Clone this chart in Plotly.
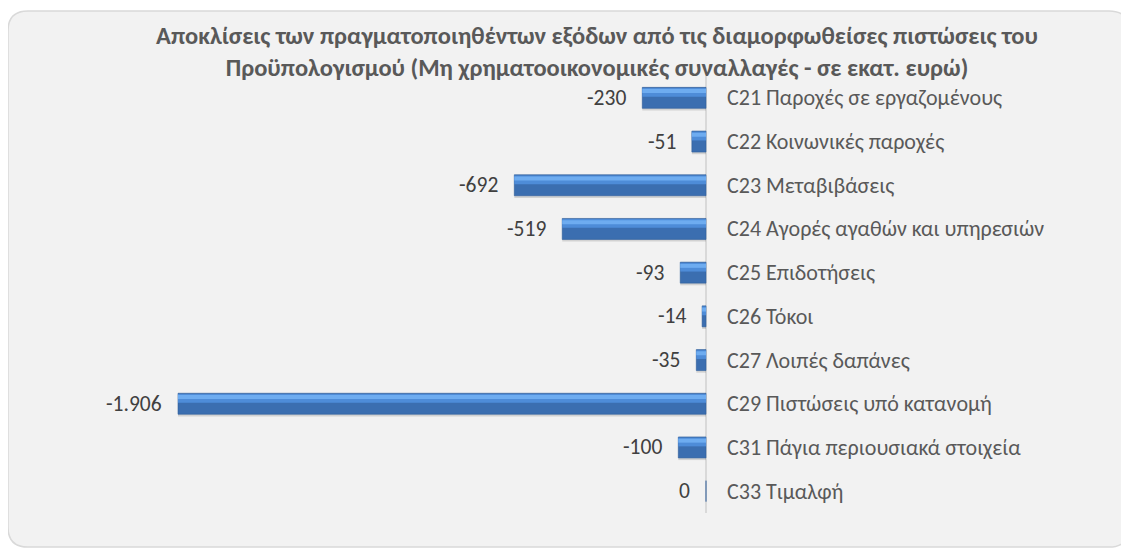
import plotly.graph_objects as go

categories = [
    "C21 Παροχές σε εργαζομένους",
    "C22 Κοινωνικές παροχές",
    "C23 Μεταβιβάσεις",
    "C24 Αγορές αγαθών και υπηρεσιών",
    "C25 Επιδοτήσεις",
    "C26 Τόκοι",
    "C27 Λοιπές δαπάνες",
    "C29 Πιστώσεις υπό κατανομή",
    "C31 Πάγια περιουσιακά στοιχεία",
    "C33 Τιμαλφή",
]
values = [-230, -51, -692, -519, -93, -14, -35, -1906, -100, 0]
value_labels = ["-230", "-51", "-692", "-519", "-93", "-14", "-35", "-1.906", "-100", "0"]

title_text = ("<b>Αποκλίσεις των πραγματοποιηθέντων εξόδων από τις διαμορφωθείσες πιστώσεις του<br>"
              "Προϋπολογισμού (Μη χρηματοοικονομικές συναλλαγές - σε εκατ. ευρώ)</b>")

W, H = 1129, 548
ML, MR, MT, MB = 100, 20, 68, 43
FONT = "Carlito, Lato, 'Noto Sans', sans-serif"

k = 528 / 1906.0  # px per unit
x0_px = 698
xmin = -(x0_px - ML) / k
xmax = (W - MR - x0_px) / k

fig = go.Figure()
# soft shadow
fig.add_trace(go.Bar(
    y=categories, x=values, orientation="h", width=0.48, offset=-0.19,
    marker=dict(color="rgba(0,0,0,0.13)", line=dict(width=0)),
    hoverinfo="skip", showlegend=False,
))
# base bar
fig.add_trace(go.Bar(
    y=categories, x=values, orientation="h", width=0.48, offset=-0.24,
    marker=dict(color="#3b6eb0", line=dict(color="#30609c", width=0.6)),
    hoverinfo="skip", showlegend=False,
))
# upper band
fig.add_trace(go.Bar(
    y=categories, x=values, orientation="h", width=0.20, offset=-0.225,
    marker=dict(color="#4e8cd8", line=dict(width=0)),
    hoverinfo="skip", showlegend=False,
))
# highlight
fig.add_trace(go.Bar(
    y=categories, x=values, orientation="h", width=0.09, offset=-0.20,
    marker=dict(color="#6eacf0", line=dict(width=0)),
    hoverinfo="skip", showlegend=False,
))

annotations = []
for c, v, t in zip(categories, values, value_labels):
    annotations.append(dict(
        x=v, y=c, xref="x", yref="y", text=t, showarrow=False,
        xanchor="right", xshift=-14, font=dict(family=FONT, size=21.5, color="#404040"),
    ))
    annotations.append(dict(
        x=0, y=c, xref="x", yref="y", text=c, showarrow=False,
        xanchor="left", xshift=19, font=dict(family=FONT, size=22, color="#595959"),
    ))

pw = W - ML - MR
ph = H - MT - MB
def px(xp):
    return (xp - ML) / pw
def py(yp):
    return (H - MB - yp) / ph

bl, bt, br, bb, r = 0, 3, 1121, 539, 20
path = (f"M {px(bl)},{py(bt + r)} "
        f"Q {px(bl)},{py(bt)} {px(bl + r)},{py(bt)} "
        f"L {px(br - r)},{py(bt)} "
        f"Q {px(br)},{py(bt)} {px(br)},{py(bt + r)} "
        f"L {px(br)},{py(bb - r)} "
        f"Q {px(br)},{py(bb)} {px(br - r)},{py(bb)} "
        f"L {px(bl + r)},{py(bb)} "
        f"Q {px(bl)},{py(bb)} {px(bl)},{py(bb - r)} Z")

fig.update_layout(
    width=W, height=H,
    margin=dict(l=ML, r=MR, t=MT, b=MB),
    paper_bgcolor="white", plot_bgcolor="rgba(0,0,0,0)",
    barmode="overlay",
    title=dict(text=title_text, x=589 / W, xanchor="center", y=1 - 36 / H, yanchor="middle",
               font=dict(family=FONT, size=24.5, color="#595959")),
    xaxis=dict(range=[xmin, xmax], showgrid=False, showticklabels=False, zeroline=True,
               zerolinecolor="#d9d9d9", zerolinewidth=2, fixedrange=True),
    yaxis=dict(autorange="reversed", showgrid=False, showticklabels=False, zeroline=False,
               fixedrange=True),
    shapes=[dict(type="path", xref="paper", yref="paper", path=path,
                 fillcolor="#f2f2f2", line=dict(color="#d9d9d9", width=1.5), layer="below")],
    annotations=annotations,
)

fig.write_html("out.html")
